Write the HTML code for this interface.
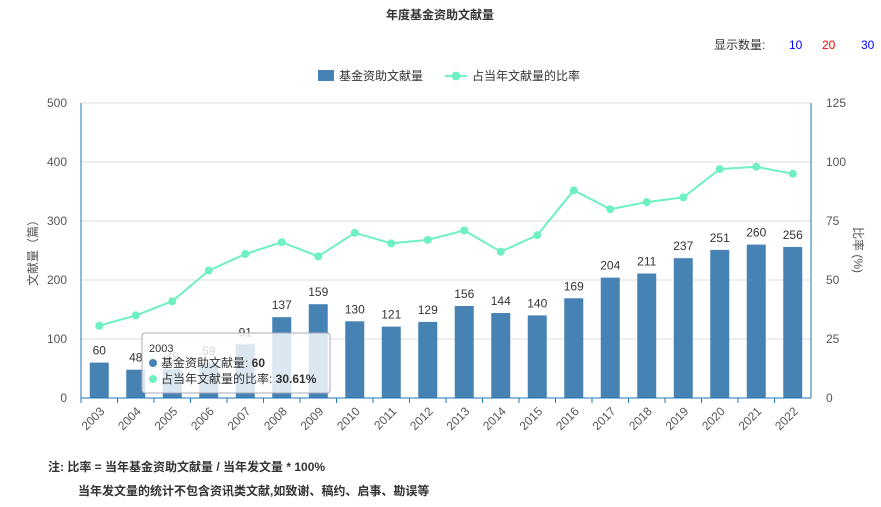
<!DOCTYPE html>
<html><head><meta charset="utf-8"><style>
body{margin:0;background:#fff;font-family:"Liberation Sans","Noto Sans CJK SC",sans-serif;}
svg text{font-family:"Liberation Sans","Noto Sans CJK SC",sans-serif;}
</style></head><body>
<svg id="c" width="881" height="502" xmlns="http://www.w3.org/2000/svg">
<text x="440" y="19" text-anchor="middle" font-size="12" font-weight="bold" fill="#333">年度基金资助文献量</text>
<text x="714" y="49" font-size="12" fill="#333">显示数量:</text>
<text x="789" y="49" font-size="12" fill="#00f">10</text>
<text x="822" y="49" font-size="12" fill="#f00">20</text>
<text x="861" y="49" font-size="12" fill="#00f">30</text>
<g>
<rect x="318" y="70" width="16" height="11" fill="#4682b4"/>
<text x="339" y="80" font-size="12" fill="#333">基金资助文献量</text>
<line x1="445" y1="76" x2="467" y2="76" stroke="#6ef0c0" stroke-width="2"/>
<circle cx="456" cy="76" r="4.5" fill="#6ef0c0"/>
<text x="472" y="80" font-size="12" fill="#333">占当年文献量的比率</text>
</g>
<text transform="translate(37,250) rotate(-90)" text-anchor="middle" font-size="12" fill="#555">文献量（篇）</text>
<text transform="translate(854,250) rotate(90)" text-anchor="middle" font-size="12" fill="#555">比率 (%)</text>
<g id="plot"></g>
<text x="48" y="471" font-size="12" font-weight="bold" fill="#333">注:   比率 = 当年基金资助文献量 / 当年发文量 * 100%</text>
<text x="78" y="495" font-size="12" font-weight="bold" fill="#333">当年发文量的统计不包含资讯类文献,如致谢、稿约、启事、勘误等</text>
</svg>
<script>
const years=["2003","2004","2005","2006","2007","2008","2009","2010","2011","2012","2013","2014","2015","2016","2017","2018","2019","2020","2021","2022"];
const counts=[60,48,49,59,91,137,159,130,121,129,156,144,140,169,204,211,237,251,260,256];
const ratios=[30.61,35,41,54,61,66,60,70,65.5,67,71,62,69,88,80,83,85,97,98,95];
const leftTicks=[0,100,200,300,400,500];
const rightTicks=[0,25,50,75,100,125];
const NS="http://www.w3.org/2000/svg";
const X0=81,X1=811,Y0=398,Y1=103;
const band=(X1-X0)/years.length;
const xc=i=>X0+band*(i+0.5);
const yl=v=>Y0-(v/500)*(Y0-Y1);
const yr=v=>Y0-(v/125)*(Y0-Y1);
const g=document.getElementById('plot');
function mk(t,a,txt){const e=document.createElementNS(NS,t);for(const k in a)e.setAttribute(k,a[k]);if(txt!=null)e.textContent=txt;g.appendChild(e);return e;}
leftTicks.forEach((v,i)=>{
 const l=mk('line',{x1:X0,x2:X1,y1:yl(v),y2:yl(v),stroke:'#ddd'});
 
 
 const t=mk('text',{x:67,y:yl(v)+4,'text-anchor':'end','font-size':12,fill:'#555'},v);
 
 
});
rightTicks.forEach(v=>{
 const t=mk('text',{x:826,y:yr(v)+4,'font-size':12,fill:'#555'},v);
 
 
});
let a=mk('line',{x1:X0,x2:X0,y1:Y1,y2:Y0,stroke:'#1f77b4'});


a=mk('line',{x1:X1,x2:X1,y1:Y1,y2:Y0,stroke:'#1f77b4'});


years.forEach((y,i)=>{
 const b=mk('rect',{x:xc(i)-9.5,y:yl(counts[i]),width:19,height:Y0-yl(counts[i]),fill:'#4682b4'});
 
 
 const t=mk('text',{x:xc(i),y:yl(counts[i])-8,'text-anchor':'middle','font-size':12,fill:'#333'},counts[i]);
 
 
 const tk=mk('line',{x1:X0+band*i,x2:X0+band*i,y1:Y0,y2:Y0+5,stroke:'#1f77b4'});
 
 
 const xl=mk('text',{transform:`translate(${xc(i)+6},${Y0+14}) rotate(-45)`,'text-anchor':'end','font-size':12,fill:'#555'},y);
 
 
});
a=mk('line',{x1:X0,x2:X1,y1:Y0,y2:Y0,stroke:'#1f77b4'});


const p=mk('polyline',{points:ratios.map((r,i)=>xc(i)+','+yr(r)).join(' '),fill:'none',stroke:'#6ef0c0','stroke-width':2});


ratios.forEach((r,i)=>{
 const c=mk('circle',{cx:xc(i),cy:yr(r),r:4,fill:'#6ef0c0'});
 
 
});
const tg=document.createElementNS(NS,'g');g.appendChild(tg);


tg.innerHTML='<rect x="142" y="333" width="188" height="60" rx="3" fill="rgba(255,255,255,0.8)" stroke="#aab" />'+
'<text x="149" y="352" font-size="11" fill="#333">2003</text>'+
'<circle cx="153" cy="363" r="4" fill="#4682b4"/><text x="161" y="367" font-size="12" fill="#333">基金资助文献量: <tspan font-weight="bold">60</tspan></text>'+
'<circle cx="153" cy="379" r="4" fill="#6ef0c0"/><text x="161" y="383" font-size="12" fill="#333">占当年文献量的比率: <tspan font-weight="bold">30.61%</tspan></text>';
</script>
</body></html>
